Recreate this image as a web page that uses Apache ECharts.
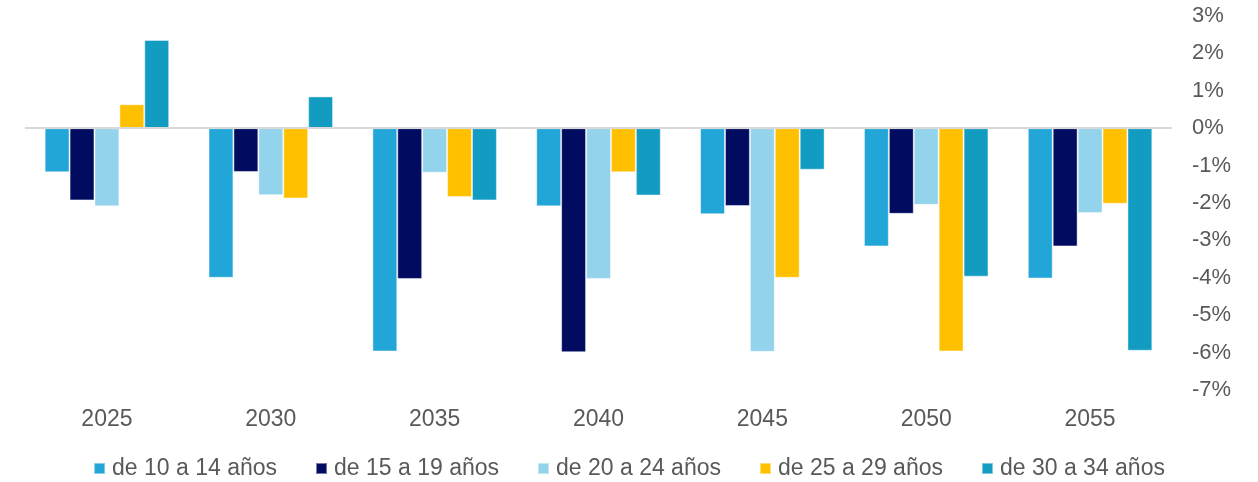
<!DOCTYPE html>
<html>
<head>
<meta charset="utf-8">
<script src="https://cdn.jsdelivr.net/npm/echarts@6/dist/echarts.min.js"></script>
<style>
  html, body { margin: 0; padding: 0; background: #fff; }
  #chart { width: 1258px; height: 482px; }
</style>
</head>
<body>
<div id="chart"></div>
<script>
const years = ['2025', '2030', '2035', '2040', '2045', '2050', '2055']
const yTicks = [3, 2, 1, 0, -1, -2, -3, -4, -5, -6, -7]

const s10a14 = [-1.18, -4.0, -5.97, -2.09, -2.3, -3.16, -4.02]
const s15a19 = [-1.93, -1.17, -4.03, -5.99, -2.08, -2.29, -3.16]
const s20a24 = [-2.09, -1.79, -1.19, -4.03, -5.98, -2.05, -2.27]
const s25a29 = [0.64, -1.88, -1.84, -1.18, -4.0, -5.97, -2.02]
const s30a34 = [2.36, 0.85, -1.93, -1.8, -1.11, -3.97, -5.95]

const names = ['de 10 a 14 años', 'de 15 a 19 años', 'de 20 a 24 años', 'de 25 a 29 años', 'de 30 a 34 años']
const colors = ['#22A6D8', '#010C60', '#93D3EC', '#FFC000', '#139CC2']
const values = [s10a14, s15a19, s20a24, s25a29, s30a34]

let myChart = echarts.init(document.getElementById('chart'))

let series = []
values.forEach((data, i) => {
  let s = {
    name: names[i],
    type: 'bar',
    data: data,
    barGap: 0,
    barCategoryGap: '24%',
    itemStyle: {
      color: colors[i],
      borderColor: 'rgba(255,255,255,0.45)',
      borderWidth: 1
    }
  }
  if (i == 0) {
    // linea del cero
    s.markLine = {
      silent: true,
      symbol: 'none',
      label: { show: false },
      lineStyle: { color: '#D9D9D9', width: 2, type: 'solid' },
      data: [{ yAxis: 0 }]
    }
  }
  series.push(s)
})

myChart.setOption({
  animation: false,
  textStyle: { fontFamily: 'Liberation Sans, Arial, sans-serif' },
  color: colors,
  grid: {
    left: 25,
    right: 86,
    top: 16,
    bottom: 92,
    containLabel: false
  },
  legend: {
    bottom: -3,
    left: 'center',
    itemWidth: 11,
    itemHeight: 11,
    itemGap: 38,
    icon: 'rect',
    textStyle: { fontSize: 23, color: '#595959', padding: [0, 0, 0, 2] },
    data: names
  },
  xAxis: {
    type: 'category',
    data: years,
    axisLine: { show: false, onZero: false },
    axisTick: { show: false },
    axisLabel: { fontSize: 23, color: '#595959', margin: 18 }
  },
  yAxis: {
    type: 'value',
    position: 'right',
    min: yTicks[yTicks.length - 1],
    max: yTicks[0],
    interval: 1,
    splitLine: { show: false },
    axisLine: { show: false },
    axisTick: { show: false },
    axisLabel: {
      fontSize: 22,
      color: '#595959',
      margin: 20,
      align: 'left',
      padding: [4, 0, 0, 0],
      formatter: v => v + '%'
    }
  },
  series: series
})
</script>
</body>
</html>
